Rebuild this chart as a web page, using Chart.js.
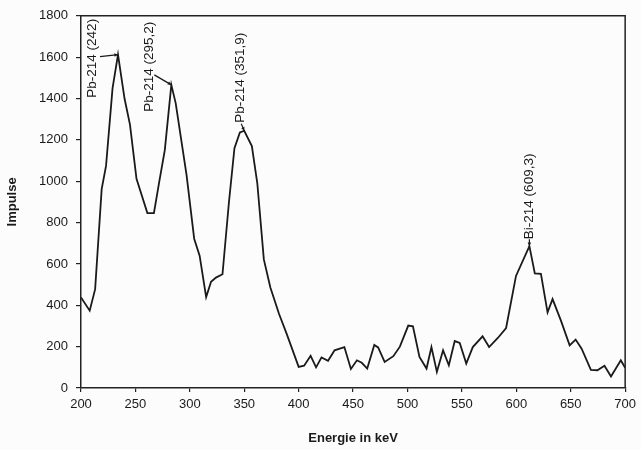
<!DOCTYPE html>
<html>
<head>
<meta charset="utf-8">
<script src="https://cdn.jsdelivr.net/npm/chart.js@4"></script>
<style>
  html, body { margin: 0; padding: 0; background: #fcfcfc; }
  #wrap { width: 641px; height: 450px; }
</style>
</head>
<body>
<div id="wrap"><canvas id="spectrum" width="641" height="450"></canvas></div>
<script>
// Gamma-Spektrum: Energie (keV) und gemessene Impulse
const energie = [200, 208, 213, 219, 223, 229, 234, 240, 245, 251, 261, 267, 272, 277, 283, 287, 297,
  304, 309, 315, 319.5, 324, 330, 336, 341, 346, 350, 357, 362, 368, 374, 382, 389,
  400, 405, 411, 416, 421, 427, 433, 442, 448, 453.5, 458, 463, 469.5, 473, 479, 487, 493,
  500.7, 505, 511, 517.5, 522, 527, 532.7, 538, 543.4, 548, 554, 560, 569, 575, 583, 590.6,
  599.7, 612, 617, 622.6, 628.7, 633.3, 641, 649, 654.5, 660, 668.5, 674.5, 681, 687, 696, 700];
const impulse = [438, 374, 478, 962, 1074, 1450, 1612, 1400, 1274, 1012, 846, 846, 1000, 1150, 1466, 1378, 1030,
  722, 640, 440, 514, 534, 550, 902, 1160, 1236, 1244, 1170, 990, 622, 486, 358, 262,
  102, 108, 156, 100, 148, 132, 182, 198, 92, 134, 122, 94, 208, 196, 126, 154, 200,
  302, 298, 150, 94, 198, 78, 182, 110, 227, 218, 118, 198, 250, 198, 242, 290,
  542, 686, 554, 552, 366, 430, 326, 206, 234, 190, 88, 86, 108, 56, 134, 98];

const xTicks = [200, 250, 300, 350, 400, 450, 500, 550, 600, 650, 700];
const yTicks = [0, 200, 400, 600, 800, 1000, 1200, 1400, 1600, 1800];

// Beschriftete Peaks (Energie des Messpunkts im Spektrum)
const peakNamen = ['Pb-214 (242)', 'Pb-214 (295,2)', 'Pb-214 (351,9)', 'Bi-214 (609,3)'];
const peakEnergie = [234, 283, 350, 612];

// Lage der Beschriftung relativ zum Peak in Pixeln:
// tx/ty = Textanfang (unten, Text läuft nach oben), lx/ly = Beginn der Hinweislinie
const peakLayout = [
  { tx: -26, ty: 43, lx: -18, ly: 2 },
  { tx: -22, ty: 27, lx: -17, ly: -10 },
  { tx: -4, ty: -8, lx: -3, ly: -7 },
  { tx: 0, ty: -7, lx: 0, ly: -7 }
];

const FONT = '"Liberation Sans", Arial, sans-serif';

const rahmen = {
  id: 'rahmen',
  afterDatasetsDraw(chart) {
    const { ctx, chartArea: a } = chart;
    ctx.save();
    ctx.strokeStyle = '#222';
    ctx.lineWidth = 1.5;
    ctx.beginPath();
    ctx.moveTo(a.left, a.top);
    ctx.lineTo(a.right, a.top);
    ctx.lineTo(a.right, a.bottom);
    ctx.stroke();
    ctx.restore();
  }
};

const peakText = {
  id: 'peakText',
  afterDatasetsDraw(chart) {
    const { ctx, scales } = chart;
    ctx.save();
    ctx.fillStyle = '#1a1a1a';
    ctx.strokeStyle = '#1a1a1a';
    ctx.lineWidth = 1.2;
    ctx.font = '13.5px ' + FONT;
    peakNamen.forEach((name, i) => {
      const idx = energie.indexOf(peakEnergie[i]);
      const px = scales.x.getPixelForValue(energie[idx]);
      const py = scales.y.getPixelForValue(impulse[idx]);
      const l = peakLayout[i];

      // Hinweislinie mit kleiner Pfeilspitze
      const sx = px + l.lx, sy = py + l.ly;
      ctx.beginPath();
      ctx.moveTo(sx, sy);
      ctx.lineTo(px, py);
      ctx.stroke();
      const ang = Math.atan2(py - sy, px - sx);
      ctx.beginPath();
      ctx.moveTo(px, py);
      ctx.lineTo(px - 4 * Math.cos(ang - 0.45), py - 4 * Math.sin(ang - 0.45));
      ctx.lineTo(px - 4 * Math.cos(ang + 0.45), py - 4 * Math.sin(ang + 0.45));
      ctx.closePath();
      ctx.fill();

      // senkrechter Text
      ctx.save();
      ctx.translate(px + l.tx, py + l.ty);
      ctx.rotate(-Math.PI / 2);
      ctx.textAlign = 'left';
      ctx.textBaseline = 'middle';
      ctx.fillText(name, 0, 0);
      ctx.restore();
    });
    ctx.restore();
  }
};

new Chart(document.getElementById('spectrum'), {
  type: 'line',
  data: {
    datasets: [{
      data: energie.map((e, i) => ({ x: e, y: impulse[i] })),
      borderColor: '#1a1a1a',
      borderWidth: 1.8,
      pointRadius: 0,
      tension: 0,
      fill: false
    }]
  },
  options: {
    responsive: false,
    animation: false,
    devicePixelRatio: 1,
    layout: { padding: { top: 13, right: 13, left: 0, bottom: 0 } },
    plugins: { legend: { display: false }, tooltip: { enabled: false } },
    scales: {
      x: {
        type: 'linear',
        min: 200,
        max: 700,
        afterBuildTicks: (s) => { s.ticks = xTicks.map(v => ({ value: v })); },
        afterFit: (s) => { s.height = 62; },
        ticks: { color: '#1a1a1a', padding: 5, maxRotation: 0, font: { family: FONT, size: 13 }, callback: v => String(v) },
        grid: { drawOnChartArea: false, drawTicks: true, tickLength: 4, color: '#222', lineWidth: 1.2 },
        border: { display: true, color: '#222', width: 1.5 },
        title: {
          display: true,
          text: 'Energie in keV',
          color: '#1a1a1a',
          font: { family: FONT, size: 13, weight: 'bold' },
          padding: { top: 8, bottom: 4 }
        }
      },
      y: {
        min: 0,
        max: 1800,
        afterBuildTicks: (s) => { s.ticks = yTicks.map(v => ({ value: v })); },
        afterFit: (s) => { s.width = 81; },
        ticks: { color: '#1a1a1a', padding: 8, font: { family: FONT, size: 13 }, callback: v => String(v) },
        grid: { drawOnChartArea: false, drawTicks: true, tickLength: 5, color: '#222', lineWidth: 1.2 },
        border: { display: true, color: '#222', width: 1.5 },
        title: {
          display: true,
          text: 'Impulse',
          color: '#1a1a1a',
          font: { family: FONT, size: 13, weight: 'bold' },
          padding: { top: 5, bottom: 6 }
        }
      }
    }
  },
  plugins: [rahmen, peakText]
});
</script>
</body>
</html>
